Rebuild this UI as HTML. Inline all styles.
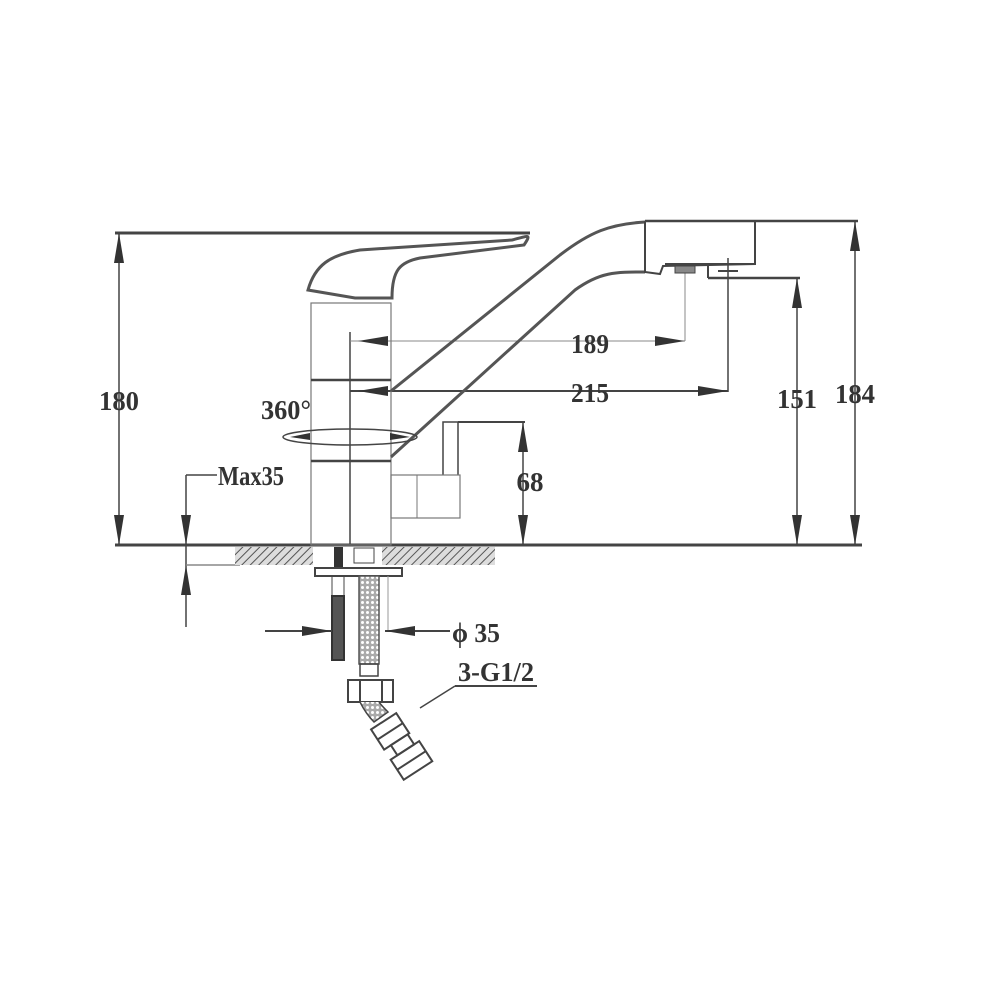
<!DOCTYPE html>
<html><head><meta charset="utf-8"><style>html,body{margin:0;padding:0;background:#fff}svg{display:block}text{font-family:"Liberation Serif",serif;font-weight:bold;fill:#333}</style></head>
<body>
<svg width="1000" height="1000" viewBox="0 0 1000 1000" xmlns="http://www.w3.org/2000/svg">
<defs>
<pattern id="h" width="6" height="6" patternUnits="userSpaceOnUse" patternTransform="rotate(45)"><rect width="6" height="6" fill="#ddd"/><line x1="0" y1="0" x2="0" y2="6" stroke="#555" stroke-width="2"/></pattern>
<pattern id="b" width="5" height="5" patternUnits="userSpaceOnUse"><rect width="5" height="5" fill="#aaa"/><circle cx="2.5" cy="2.5" r="1.5" fill="#fff"/></pattern>
</defs>
<g stroke="#444" fill="none" stroke-width="2">
<line x1="115" y1="233" x2="530" y2="233" stroke-width="3"/>
<line x1="115" y1="545" x2="862" y2="545" stroke-width="3"/>
<line x1="645" y1="221" x2="858" y2="221" stroke-width="2.5"/>
<line x1="708" y1="278" x2="800" y2="278" stroke-width="2.5"/>
<line x1="458" y1="422" x2="525" y2="422"/>
<line x1="119" y1="233" x2="119" y2="545" stroke-width="1.5"/>
<line x1="855" y1="221" x2="855" y2="545" stroke-width="1.5"/>
<line x1="797" y1="278" x2="797" y2="545" stroke-width="1.5"/>
<line x1="523" y1="422" x2="523" y2="545" stroke-width="1.5"/>
<line x1="186" y1="475" x2="186" y2="627" stroke-width="1.5"/>
<line x1="186" y1="475" x2="217" y2="475" stroke-width="1.5"/>
<line x1="186" y1="565" x2="240" y2="565" stroke-width="1.5" stroke="#888"/>
<line x1="350" y1="332" x2="350" y2="545" stroke-width="1.5"/>
<line x1="350" y1="341" x2="685" y2="341" stroke-width="1" stroke="#888"/>
<line x1="685" y1="265" x2="685" y2="341" stroke-width="1" stroke="#888"/>
<line x1="350" y1="391" x2="728" y2="391" stroke-width="2"/>
<line x1="728" y1="258" x2="728" y2="392" stroke-width="1.5"/>
<rect x="311" y="303" width="80" height="242" stroke-width="1.2" stroke="#777"/>
<line x1="311" y1="380" x2="391" y2="380" stroke-width="2.5"/>
<line x1="311" y1="461" x2="391" y2="461" stroke-width="2.5"/>
<path d="M308,290 C315,265 330,255 360,250 L512,240 C528,236 532,233 524,245 L420,258 C400,262 392,270 392,298 L355,298 Z" stroke-width="3" stroke="#555"/>
<path d="M391,391 L560,255 C590,232 610,224 645,222" stroke-width="3" stroke="#555"/>
<path d="M391,457 L575,290 C600,272 615,272 645,272" stroke-width="3" stroke="#555"/>
<path d="M645,221 L645,272 L660,274 L663,266 L755,264 L755,221" stroke-width="2"/>
<line x1="665" y1="264" x2="755" y2="264" stroke-width="2"/>
<rect x="675" y="266" width="20" height="7" fill="#888" stroke-width="1"/>
<path d="M708,266 L708,278 M718,271 L738,271" stroke-width="2"/>
<path d="M443,475 L443,422 L458,422 L458,475" stroke-width="1.5"/>
<rect x="391" y="475" width="69" height="43" stroke-width="1.2" stroke="#777"/>
<line x1="417" y1="475" x2="417" y2="518" stroke-width="1" stroke="#777"/>
<ellipse cx="350" cy="437" rx="67" ry="8" stroke-width="1.5"/>
<rect x="235" y="547" width="78" height="18" fill="url(#h)" stroke="none"/>
<rect x="382" y="547" width="113" height="18" fill="url(#h)" stroke="none"/>
<rect x="334" y="547" width="9" height="20" fill="#333" stroke="none"/>
<rect x="354" y="548" width="20" height="15" stroke-width="1"/>
<rect x="315" y="568" width="87" height="8" stroke-width="2"/>
<rect x="332" y="576" width="12" height="20" stroke-width="1"/>
<rect x="332" y="596" width="12" height="64" fill="#555" stroke="#333"/>
<rect x="359" y="576" width="20" height="88" fill="url(#b)" stroke="#555" stroke-width="1.5"/>
<line x1="388" y1="576" x2="388" y2="630" stroke-width="1" stroke="#999"/>
<line x1="265" y1="631" x2="332" y2="631" stroke-width="2"/>
<line x1="385" y1="631" x2="450" y2="631" stroke-width="2"/>
<rect x="360" y="664" width="18" height="12" stroke-width="1.5"/>
<rect x="348" y="680" width="45" height="22" stroke-width="2"/>
<line x1="360" y1="680" x2="360" y2="702"/><line x1="382" y1="680" x2="382" y2="702"/>
<path d="M360,702 C364,710 368,716 374,722 L388,712 C384,708 381,705 379,702" fill="url(#b)" stroke-width="1.5"/>
<g transform="translate(388,728) rotate(-33)">
<rect x="-15" y="-8" width="30" height="24" stroke-width="2"/>
<line x1="-15" y1="4" x2="15" y2="4"/>
<rect x="-7" y="16" width="20" height="12" stroke-width="2"/>
<rect x="-15" y="28" width="34" height="24" stroke-width="2"/>
<line x1="-15" y1="40" x2="19" y2="40"/>
</g>
<line x1="420" y1="708" x2="455" y2="686" stroke-width="1.5"/>
<line x1="455" y1="686" x2="537" y2="686" stroke-width="2"/>
</g>
<g fill="#333">
<path d="M119,233 l-5,30 h10 z"/><path d="M119,545 l-5,-30 h10 z"/>
<path d="M855,221 l-5,30 h10 z"/><path d="M855,545 l-5,-30 h10 z"/>
<path d="M797,278 l-5,30 h10 z"/><path d="M797,545 l-5,-30 h10 z"/>
<path d="M523,422 l-5,30 h10 z"/><path d="M523,545 l-5,-30 h10 z"/>
<path d="M186,545 l-5,-30 h10 z"/><path d="M186,565 l-5,30 h10 z"/>
<path d="M358,341 l30,-5 v10 z"/><path d="M685,341 l-30,-5 v10 z"/>
<path d="M358,391 l30,-5 v10 z"/><path d="M728,391 l-30,-5 v10 z"/>
<path d="M332,631 l-30,-5 v10 z"/><path d="M385,631 l30,-5 v10 z"/>
<path d="M290,437 l20,-4 v7 z"/><path d="M410,437 l-20,-4 v7 z"/>
</g>
<g font-size="27" text-anchor="middle" lengthAdjust="spacingAndGlyphs">
<text x="119" y="410" textLength="40" lengthAdjust="spacingAndGlyphs">180</text>
<text x="855" y="403" textLength="40" lengthAdjust="spacingAndGlyphs">184</text>
<text x="797" y="408" textLength="40" lengthAdjust="spacingAndGlyphs">151</text>
<text x="530" y="491" textLength="27" lengthAdjust="spacingAndGlyphs">68</text>
<text x="590" y="353" textLength="38" lengthAdjust="spacingAndGlyphs">189</text>
<text x="590" y="402" textLength="38" lengthAdjust="spacingAndGlyphs">215</text>
<text x="286" y="419" textLength="50" lengthAdjust="spacingAndGlyphs">360°</text>
<text x="251" y="485" textLength="66" lengthAdjust="spacingAndGlyphs">Max35</text>
<text x="476" y="642" textLength="48" lengthAdjust="spacingAndGlyphs">ϕ 35</text>
<text x="496" y="681" textLength="76" lengthAdjust="spacingAndGlyphs">3-G1/2</text>
</g>
</svg>
</body></html>
